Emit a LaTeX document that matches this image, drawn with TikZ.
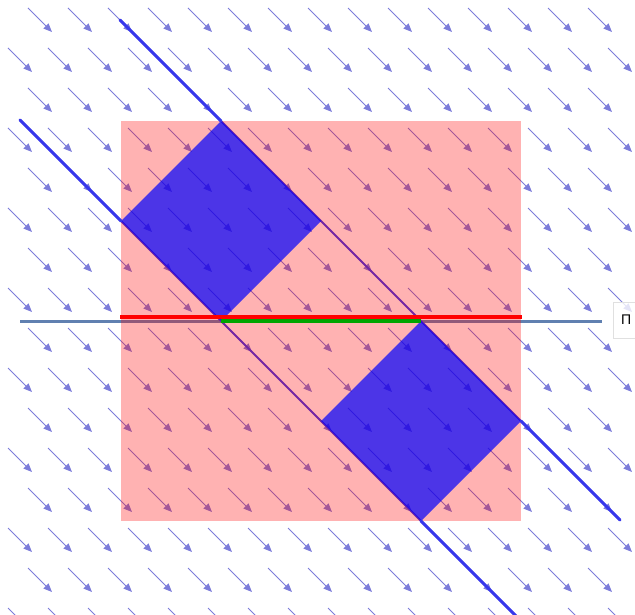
\documentclass[tikz,border=0pt]{standalone}
\usepackage{fontspec}
\usepackage{xcolor}
\usepackage{tikz}
\usetikzlibrary{arrows.meta, calc}
\newfontfamily\planefont{Liberation Sans}
\definecolor{fieldblue}{RGB}{124, 124, 218}
\definecolor{planegray}{RGB}{96, 128, 176}
\definecolor{rayblue}{RGB}{55, 55, 235}
\definecolor{slabred}{RGB}{255, 0, 0}
\definecolor{cutgreen}{RGB}{0, 165, 0}

\begin{document}
\begin{tikzpicture}[x=1pt, y=-1pt,
    fieldarrow/.style={draw=fieldblue, fill=fieldblue, line width=0.9pt,
                       -{Triangle[length=8.5pt, width=7pt]}},
    raythin/.style={draw=rayblue, line width=2pt},
    raythick/.style={draw=rayblue, line width=3pt, line cap=round},
    planelabel/.style={draw=black!12, fill=white, fill opacity=0.8, text opacity=1,
                       inner xsep=6pt, minimum height=36pt, minimum width=26pt,
                       font=\planefont\fontsize{14}{16}\selectfont}]
    \useasboundingbox (0,0) rectangle (635,615);
    \clip (0,0) rectangle (635,615);

    % vector field
    \foreach \row in {0,...,15} {
        \pgfmathsetmacro{\cy}{20+40*\row}
        \pgfmathsetmacro{\cx}{mod(\row,2)==0 ? 40 : 20}
        \pgfmathtruncatemacro{\lastcol}{mod(\row,2)==0 ? 14 : 15}
        \foreach \col in {0,...,\lastcol} {
            \draw[fieldarrow] (\cx+40*\col-12, \cy-12) -- ++(24,24);
        }
    }

    % points
    \coordinate (planeW) at (20,321);
    \coordinate (planeE) at (602,321);
    \coordinate (ray1start) at (120,20);
    \coordinate (ray1in) at (221,121);
    \coordinate (ray1out) at (521,421);
    \coordinate (ray1end) at (620,520);
    \coordinate (ray2start) at (20,120);
    \coordinate (ray2in) at (121,221);
    \coordinate (ray2out) at (421,521);
    \coordinate (ray2end) at (520,620);

    % plane and rays below the slab
    \draw[planegray, line width=3pt] (planeW) -- (planeE);
    \draw[raythin] (ray1start) -- (ray1end);
    \draw[raythin] (ray2start) -- (ray2end);

    % slab and tubes
    \fill[slabred, opacity=0.3] (121,121) rectangle (521,521);
    \fill[blue, opacity=0.7] (ray2in) -- (ray1in) -- (321,221) -- (221,321) -- cycle;
    \fill[blue, opacity=0.7] (321,421) -- (421,321) -- (ray1out) -- (ray2out) -- cycle;

    % rays outside the slab
    \draw[raythick] (ray1start) -- (ray1in);
    \draw[raythick] (ray1out) -- (ray1end);
    \draw[raythick] (ray2start) -- (ray2in);
    \draw[raythick] (ray2out) -- (ray2end);

    % cuts on the plane
    \draw[slabred, line width=3.2pt] (120,317) -- (522,317);
    \draw[cutgreen, line width=3.2pt] (221,321) -- (421,321);

    \node[planelabel, anchor=west] (planename) at (613,320) {Π};
\end{tikzpicture}
\end{document}
